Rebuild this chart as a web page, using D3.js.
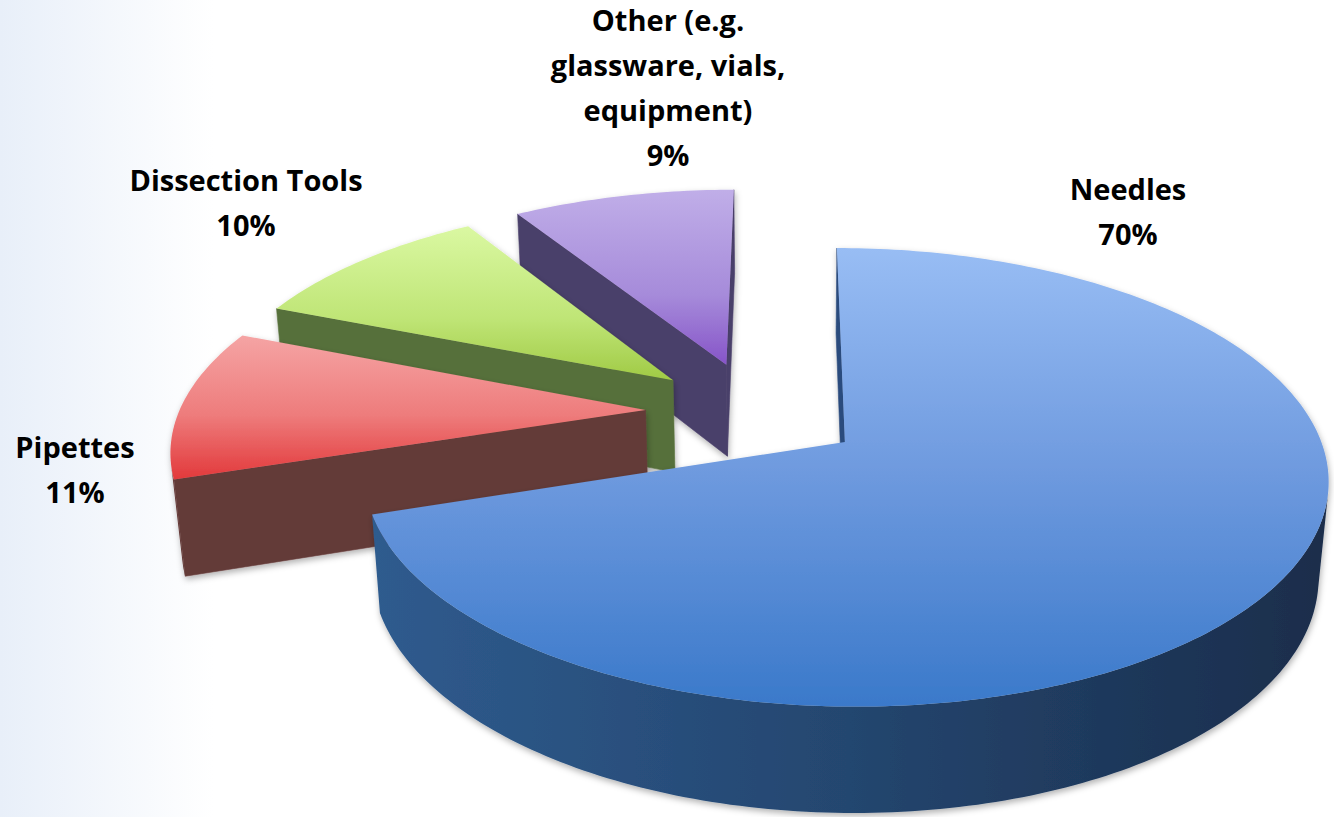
<!DOCTYPE html>
<html>
<head>
<meta charset="utf-8">
<script src="https://cdn.jsdelivr.net/npm/d3@7"></script>
<style>
  html, body { margin: 0; padding: 0; background: #ffffff; }
  svg { display: block; }
</style>
</head>
<body>
<svg id="chart" width="1334" height="817"></svg>
<script>
// ---- data ----
const categories = ["Needles", "Pipettes", "Dissection Tools", "Other (e.g. glassware, vials, equipment)"];
const values = [70, 11, 10, 9];
const labelNameLines = [["Needles"], ["Pipettes"], ["Dissection Tools"], ["Other (e.g.", "glassware, vials,", "equipment)"]];

// ---- styling ----
const topStops = [
  [["0", "#98bdf4"], ["0.5", "#6d99de"], ["1", "#3a79ca"]],
  [["0", "#f5a4a4"], ["0.55", "#ee7c7c"], ["1", "#e2393b"]],
  [["0", "#daf8a2"], ["0.6", "#bfe576"], ["1", "#a0ca45"]],
  [["0", "#c0aee8"], ["0.6", "#a68bda"], ["1", "#8654c8"]]
];
const wallStops = [
  [["0", "#2f5b8e"], ["0.5", "#24466f"], ["1", "#1a2d4b"]],
  [["0", "#6a3e3c"], ["1", "#623a38"]],
  [["0", "#5b743b"], ["1", "#536b34"]],
  [["0", "#4e436e"], ["1", "#473c66"]]
];
const radialColor = ["#2b4c7d", "#643b39", "#57703a", "#4a3f6a"];

// label anchors: centre x, centre y of first line
const labelAnchor = [[1128, 190], [75, 448], [246, 181], [668, 21]];
const lineGap = 45;
const fontSize = 29;

// ---- 3D projection of the tilted pie ----
const cam = { F: 2743, L: 5.88, s: 0.46, c: Math.sqrt(1 - 0.46 * 0.46), sx: 785, sy: 411.7, cx: 0.0644 };
const camPos = [cam.cx, -cam.L * cam.c, cam.L * cam.s];
function project(X, Y, Z) {
  const depth = cam.L + Y * cam.c - Z * cam.s;
  return [cam.sx + cam.F * (X - cam.cx) / depth, cam.sy - cam.F * (Y * cam.s + Z * cam.c) / depth];
}
function facing(P, n) {
  return (camPos[0] - P[0]) * n[0] + (camPos[1] - P[1]) * n[1] + (camPos[2] - P[2]) * n[2] > 0;
}

const R = 1, H = 0.23, EXPLODE = 0.235;

const svg = d3.select("#chart");
const defs = svg.append("defs");

// page background: soft blue wash on the left edge
const bg = defs.append("linearGradient").attr("id", "bg").attr("x1", 0).attr("x2", 1).attr("y1", 0).attr("y2", 0);
bg.append("stop").attr("offset", "0").attr("stop-color", "#e8eff9");
bg.append("stop").attr("offset", "0.16").attr("stop-color", "#ffffff");
svg.append("rect").attr("width", 1334).attr("height", 817).attr("fill", "url(#bg)");

const shadow = defs.append("filter").attr("id", "shadow")
  .attr("x", "-10%").attr("y", "-10%").attr("width", "125%").attr("height", "130%");
shadow.append("feDropShadow").attr("dx", 1).attr("dy", 3).attr("stdDeviation", 3)
  .attr("flood-color", "#000").attr("flood-opacity", 0.3);

function gradient(id, stops, horizontal) {
  const g = defs.append("linearGradient").attr("id", id)
    .attr("x1", 0).attr("y1", 0).attr("x2", horizontal ? 1 : 0).attr("y2", horizontal ? 0 : 1);
  stops.forEach(([o, c]) => g.append("stop").attr("offset", o).attr("stop-color", c));
}
values.forEach((v, i) => {
  gradient("top" + i, topStops[i], false);
  gradient("wall" + i, wallStops[i], true);
});

const line = d3.line().curve(d3.curveLinearClosed);
const arcs = d3.pie().sort(null).value(d => d)(values);

const slices = arcs.map((a, i) => {
  const mid = (a.startAngle + a.endAngle) / 2;
  const ox = EXPLODE * Math.sin(mid), oy = EXPLODE * Math.cos(mid);
  const n = Math.max(6, Math.ceil((a.endAngle - a.startAngle) / (Math.PI / 180)));
  const ts = d3.range(n + 1).map(k => a.startAngle + (a.endAngle - a.startAngle) * k / n);
  const rim = t => [ox + R * Math.sin(t), oy + R * Math.cos(t)];
  const faces = [];

  // radial faces
  [[a.startAngle, a.startAngle - Math.PI / 2], [a.endAngle, a.endAngle + Math.PI / 2]].forEach(([t, nt]) => {
    const p = rim(t);
    const normal = [Math.sin(nt), Math.cos(nt), 0];
    const centre = [(ox + p[0]) / 2, (oy + p[1]) / 2, -H / 2];
    if (facing(centre, normal)) {
      faces.push({ pts: [project(ox, oy, 0), project(p[0], p[1], 0), project(p[0], p[1], -H), project(ox, oy, -H)], fill: radialColor[i] });
    }
  });

  // outer wall, split into the runs that face the viewer
  let run = null;
  const runs = [];
  for (let k = 0; k < n; k++) {
    const tm = (ts[k] + ts[k + 1]) / 2;
    const pm = rim(tm);
    const vis = facing([pm[0], pm[1], -H / 2], [Math.sin(tm), Math.cos(tm), 0]);
    if (vis) {
      if (!run) { run = [ts[k]]; runs.push(run); }
      run.push(ts[k + 1]);
    } else run = null;
  }
  runs.forEach(r => {
    const topPts = r.map(t => { const p = rim(t); return project(p[0], p[1], 0); });
    const botPts = r.slice().reverse().map(t => { const p = rim(t); return project(p[0], p[1], -H); });
    faces.push({ pts: topPts.concat(botPts), fill: `url(#wall${i})` });
  });

  // top face
  const top = [project(ox, oy, 0)].concat(ts.map(t => { const p = rim(t); return project(p[0], p[1], 0); }));
  return { i, oy, faces, top };
});

// back-to-front drawing order
const plot = svg.append("g");
slices.slice().sort((p, q) => q.oy - p.oy).forEach(sl => {
  const g = plot.append("g").attr("class", "slice").attr("filter", "url(#shadow)");
  sl.faces.forEach(f => {
    g.append("path").attr("d", line(f.pts)).attr("fill", f.fill)
      .attr("stroke", f.fill.startsWith("url") ? "none" : f.fill).attr("stroke-width", 0.6);
  });
  g.append("path").attr("d", line(sl.top)).attr("fill", `url(#top${sl.i})`);
});

// data labels
const labels = svg.append("g")
  .attr("font-family", "'Open Sans', 'DejaVu Sans', sans-serif")
  .attr("font-weight", 700)
  .attr("font-size", fontSize)
  .attr("fill", "#000")
  .attr("text-anchor", "middle");
arcs.forEach((a, i) => {
  const lines = labelNameLines[i].concat([`${values[i]}%`]);
  const [lx, ly] = labelAnchor[i];
  lines.forEach((t, k) => {
    labels.append("text").attr("x", lx).attr("y", ly + k * lineGap + fontSize * 0.36).text(t);
  });
});
</script>
</body>
</html>
